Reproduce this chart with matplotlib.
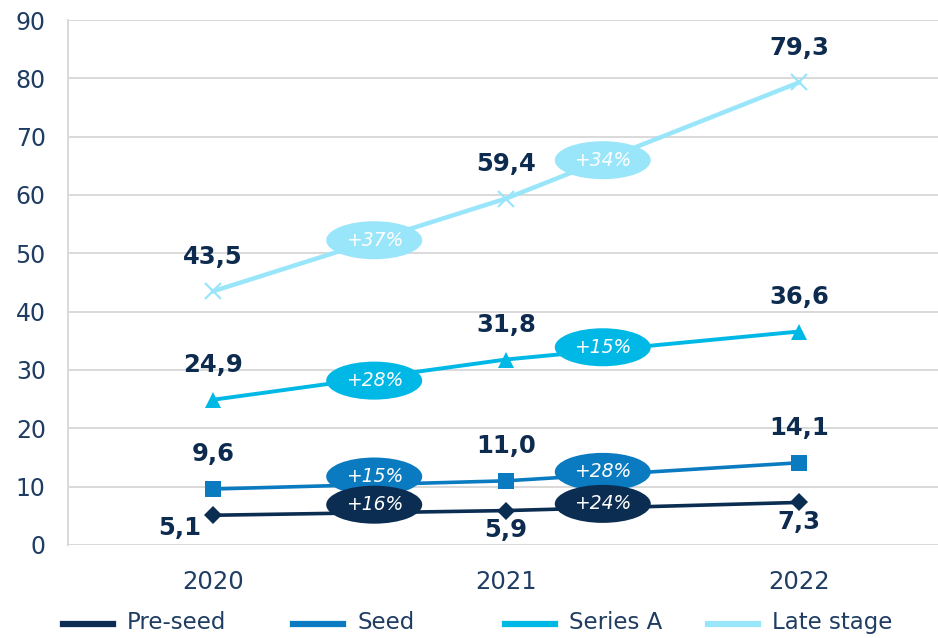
import matplotlib.pyplot as plt
from matplotlib.patches import Ellipse
from matplotlib.lines import Line2D

years = ['2020', '2021', '2022']
series = ['Pre-seed', 'Seed', 'Series A', 'Late stage']
pre_seed = [5.1, 5.9, 7.3]
seed = [9.6, 11.0, 14.1]
series_a = [24.9, 31.8, 36.6]
late_stage = [43.5, 59.4, 79.3]
growth_pre_seed = ['+16%', '+24%']
growth_seed = ['+15%', '+28%']
growth_series_a = ['+28%', '+15%']
growth_late_stage = ['+37%', '+34%']

values = [pre_seed, seed, series_a, late_stage]
growths = [growth_pre_seed, growth_seed, growth_series_a, growth_late_stage]
colors = ['#0b2d52', '#0a7bc1', '#00b8e6', '#99e5fa']
markers = ['D', 's', '^', 'x']
msizes = [9, 11, 11, 12]
widths = [2.6, 2.6, 2.8, 3.2]
navy = '#0d2b4e'
tick_col = '#1f3d63'

plt.rcParams['font.family'] = 'DejaVu Sans'
fig = plt.figure(figsize=(9.38, 6.38), dpi=100)
ax = fig.add_axes([68 / 938, 93 / 638, 870 / 938, 525 / 638])

x = list(range(len(years)))
for vals, col, mk, ms, lw in zip(values, colors, markers, msizes, widths):
    ax.plot(x, vals, color=col, lw=lw, marker=mk, markersize=ms,
            markeredgewidth=1.6 if mk == 'x' else 0, markeredgecolor=col, zorder=4)

# value labels
for k, vals in enumerate(values):
    for i, v in enumerate(vals):
        txt = f'{v:.1f}'.replace('.', ',')
        if k == 0:
            off = (-24, -9) if i == 0 else (0, -14)
        else:
            off = (0, 25)
        ax.annotate(txt, (i, v), xytext=off, textcoords='offset points',
                    ha='center', va='center', fontsize=17.5, fontweight='bold',
                    color=navy, zorder=6)

# growth ellipses between years
px_per_unit = 525 / 90
ew, eh = 96 / 293, 38 / px_per_unit
frac = [0.55, 0.33]
nudges = [[8, 4], [8, 3], [-3, 3], [0, 0]]
for k, (vals, g, col) in enumerate(zip(values, growths, colors)):
    for i in range(2):
        xc = i + frac[i]
        yc = vals[i] + (vals[i + 1] - vals[i]) * frac[i] + nudges[k][i] / px_per_unit
        ax.add_patch(Ellipse((xc, yc), ew, eh, facecolor=col, edgecolor='none',
                             zorder=5 - 0.1 * k))
        ax.text(xc, yc, g[i], ha='center', va='center', fontsize=13.5,
                style='italic', color='white', zorder=6)

ax.set_xlim(-0.495, 2.474)
ax.set_ylim(0, 90)
ax.set_yticks(range(0, 91, 10))
ax.set_xticks(x)
ax.set_xticklabels(years)
ax.grid(axis='y', color='#d9d9d9', lw=1.4)
ax.set_axisbelow(True)
for s in ['top', 'right', 'bottom']:
    ax.spines[s].set_visible(False)
ax.spines['left'].set_color('#d9d9d9')
ax.spines['left'].set_linewidth(1.4)
ax.tick_params(axis='both', length=0, labelsize=17, colors=tick_col)
ax.tick_params(axis='y', pad=16)
ax.tick_params(axis='x', pad=18)
for lab in ax.get_xticklabels():
    lab.set_fontsize(17.5)

# legend at bottom
leg_x = [63, 293, 505, 708]
leg_y = 1 - 624 / 638
for xs, name, col in zip(leg_x, series, colors):
    fig.add_artist(Line2D([xs / 938, (xs + 50) / 938], [leg_y, leg_y], color=col, lw=4.5,
                          transform=fig.transFigure))
    fig.text((xs + 64) / 938, leg_y + 0.003, name, ha='left', va='center',
             fontsize=16.5, color=tick_col)

fig.savefig('out.png', dpi=100, facecolor='white')
